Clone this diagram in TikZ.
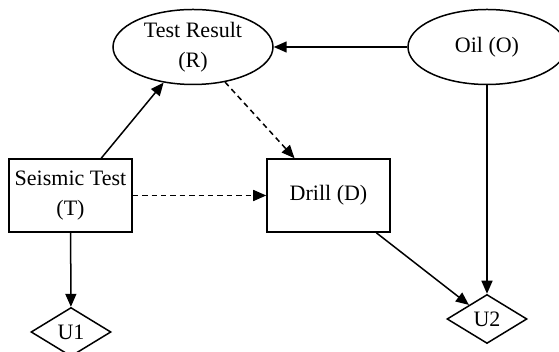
\documentclass[tikz,border=0pt]{standalone}
\usepackage{fontspec}
\setmainfont{Liberation Serif}
\usetikzlibrary{shapes.geometric,arrows.meta}

\begin{document}
\begin{tikzpicture}[x=0.5pt,y=0.5pt,line width=0.75pt,
    font=\fontsize{11}{15}\selectfont,
    chance/.style={draw,ellipse,inner sep=0pt,align=center},
    decision/.style={draw,rectangle,inner sep=0pt,align=center,minimum width=61.5pt,minimum height=36.5pt},
    utility/.style={draw,diamond,inner sep=0pt,minimum width=40pt,minimum height=24.5pt},
    link/.style={-{Triangle[length=6.5pt,width=5.5pt]}},
    info/.style={link,dash pattern=on 2.7pt off 2pt}]
    \useasboundingbox (0,0) rectangle (559,352);

    \node [chance,minimum width=80pt,minimum height=37.5pt] (R) at (193,305) {Test Result\\(R)};
    \node [chance,minimum width=79pt,minimum height=37.5pt] (O) at (487,305) {Oil (O)};
    \node [decision] (T) at (70.5,156.5) {Seismic Test\\(T)};
    \node [decision] (D) at (328.5,156.5) {Drill (D)};
    \node [utility] (U1) at (71,20) {U1};
    \node [utility] (U2) at (487,33) {U2};

    \draw [link] (O) -- (R);
    \draw [link] (T) -- (R);
    \draw [link] (T) -- (U1);
    \draw [link] (D) -- (U2);
    \draw [link] (O) -- (U2);
    \draw [info] (T) -- (D);
    \draw [info] (R) -- (D);
\end{tikzpicture}
\end{document}
